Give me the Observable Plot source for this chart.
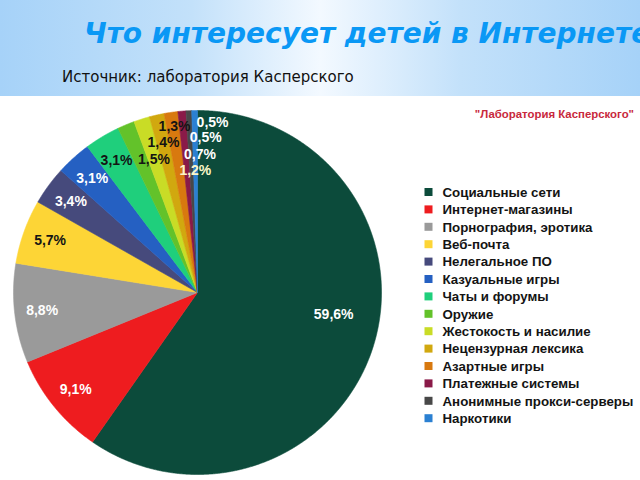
<!DOCTYPE html>
<html><head><meta charset="utf-8">
<script src="https://cdn.jsdelivr.net/npm/d3@7"></script>
<script src="https://cdn.jsdelivr.net/npm/@observablehq/plot@0.6"></script>
<style>
body{margin:0;width:640px;height:480px;overflow:hidden;background:#fff;position:relative;}
#banner{position:absolute;left:0;top:0;width:640px;height:96px;overflow:hidden;
 background:linear-gradient(to right,#a6d2f8 0%,#c3e1fa 30%,#f3f9ff 50%,#c3e1fa 72%,#a6d2f8 100%);}
#title{position:absolute;left:84px;top:17px;font:italic bold 28px "DejaVu Sans";color:#0a98f5;white-space:nowrap;}
#subtitle{position:absolute;left:62px;top:68px;font:15px "DejaVu Sans";color:#111;white-space:nowrap;}
#chart{position:absolute;left:0;top:96px;}
#brand{position:absolute;right:6px;top:108px;font:bold 11.4px "Liberation Sans";color:#c8283c;white-space:nowrap;}
</style></head>
<body>
<div id="banner"><div id="title">Что интересует детей в Интернете?</div>
<div id="subtitle">Источник: лаборатория Касперского</div></div>
<div id="chart"></div>
<div id="brand">"Лаборатория Касперского"</div>
<script>
const categories = ["Социальные сети","Интернет-магазины","Порнография, эротика","Веб-почта","Нелегальное ПО","Казуальные игры","Чаты и форумы","Оружие","Жестокость и насилие","Нецензурная лексика","Азартные игры","Платежные системы","Анонимные прокси-серверы","Наркотики"];
const values = [59.6, 9.1, 8.8, 5.7, 3.4, 3.1, 3.1, 1.5, 1.4, 1.3, 1.2, 0.7, 0.5, 0.5];
const valueLabels = ["59,6%","9,1%","8,8%","5,7%","3,4%","3,1%","3,1%","1,5%","1,4%","1,3%","1,2%","0,7%","0,5%","0,5%"];

const palette = ["#0c4b3b","#ee1c1f","#9a9a9a","#fdd536","#464a7c","#2560c2","#1fcf7c","#63c22a","#c9dc26","#d1a80f","#d8790f","#8a1a48","#484848","#2b80d2"];
const inkFor = ["light","light","light","dark","light","light","dark","dark","dark","dark","pale","light","light","light"];

// layout (page pixels)
const CX = 197, CY = 292, RX = 184, RY = 182, TOP = 96, W = 640, H = 384;
const px = X => (X - CX) / RX;
const py = Y => (CY - Y) / RY;

const total = d3.sum(values);
let acc = 0;
const slices = categories.map((c, i) => {
  const a0 = acc / total * 2 * Math.PI; acc += values[i];
  const a1 = acc / total * 2 * Math.PI;
  return {key: c, i, value: values[i], a0, a1};
});
const pts = [];
for (const s of slices) {
  pts.push({key: s.key, x: 0, y: 0});
  const n = Math.max(2, Math.ceil((s.a1 - s.a0) / (Math.PI / 720)));
  for (let k = 0; k <= n; k++) {
    const a = s.a0 + (s.a1 - s.a0) * k / n;
    pts.push({key: s.key, x: Math.sin(a), y: Math.cos(a)});
  }
  pts.push({key: s.key, x: 0, y: 0});
}

const deg = Math.PI / 180;
const groupA = slices.filter(s => s.value < 3 && s.value >= 1.3);
const groupB = slices.filter(s => s.value < 1.3);
const lbls = slices.map(s => {
  let a = (s.a0 + s.a1) / 2, r = 0.85;
  if (s.value > 50) { a -= 8 * deg; r = 0.75; }
  else if (s.value < 1.3) { const k = groupB.indexOf(s); a = (k - 0.5) * 2 * deg; r = 0.67 + 0.09 * k; }
  else if (s.value < 3) { const k = groupA.indexOf(s); a += 5 * deg; r = 0.77 + 0.075 * k; }
  return {x: r * Math.sin(a), y: r * Math.cos(a), text: valueLabels[s.i], ink: inkFor[s.i]};
});

const legend = categories.map((c, i) => {
  const rowY = 192 + i * 17.4;
  return {key: c, x1: px(424.5), x2: px(432.5), y1: py(rowY + 4), y2: py(rowY - 4), tx: px(442), ty: py(rowY)};
});

const labelOpts = {x: "x", y: "y", text: "text", fontSize: 14, fontWeight: "bold"};
const chart = Plot.plot({
  width: W, height: H, margin: 0,
  x: {domain: [px(0), px(W)], axis: null},
  y: {domain: [py(TOP + H), py(TOP)], axis: null},
  color: {domain: categories, range: palette},
  style: {fontFamily: "'Liberation Sans', Arial, sans-serif", background: "transparent"},
  marks: [
    Plot.line(pts, {x: "x", y: "y", z: "key", fill: "key", stroke: "key", strokeWidth: 0.6, curve: "linear"}),
    Plot.text(lbls.filter(d => d.ink === "light"), {...labelOpts, fill: "#ffffff"}),
    Plot.text(lbls.filter(d => d.ink === "dark"), {...labelOpts, fill: "#141414"}),
    Plot.text(lbls.filter(d => d.ink === "pale"), {...labelOpts, fill: "#fbf7c8"}),
    Plot.rect(legend, {x1: "x1", x2: "x2", y1: "y1", y2: "y2", fill: "key"}),
    Plot.text(legend, {x: "tx", y: "ty", text: "key", textAnchor: "start", fontSize: 13.3, fontWeight: "bold", fill: "#141414"})
  ]
});
document.getElementById("chart").appendChild(chart);
</script>
</body></html>
